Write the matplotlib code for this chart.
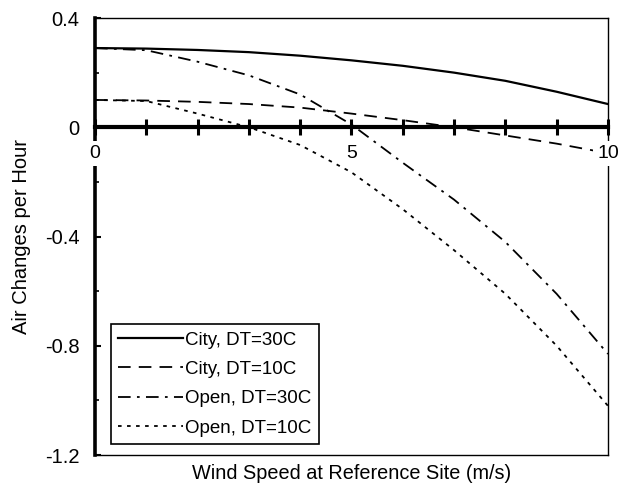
import matplotlib
matplotlib.use("Agg")
import matplotlib.pyplot as plt
import numpy as np
from matplotlib.ticker import FixedLocator, FixedFormatter

plt.rcParams['font.family'] = ['Liberation Sans', 'DejaVu Sans']
plt.rcParams['axes.unicode_minus'] = False

# wind speed (m/s)
wind = [0, 1, 2, 3, 4, 5, 6, 7, 8, 9, 10]

# air changes per hour
city_30 = [0.29, 0.288, 0.283, 0.275, 0.262, 0.245, 0.225, 0.20, 0.17, 0.13, 0.085]
city_10 = [0.10, 0.098, 0.093, 0.085, 0.072, 0.05, 0.026, 0.0, -0.03, -0.06, -0.095]
open_30 = [0.29, 0.282, 0.24, 0.19, 0.12, 0.01, -0.13, -0.265, -0.42, -0.61, -0.83]
open_10 = [0.10, 0.096, 0.05, 0.0, -0.065, -0.165, -0.30, -0.45, -0.61, -0.80, -1.02]

labels = ["City, DT=30C", "City, DT=10C", "Open, DT=30C", "Open, DT=10C"]

y_ticks = [0.4, 0, -0.4, -0.8, -1.2]
y_ticklabels = ["0.4", "0", "-0.4", "-0.8", "-1.2"]

fig = plt.figure(figsize=(6.3, 4.88), dpi=100)
ax = fig.add_axes([0.1508, 0.0676, 0.8142, 0.8955])

lw = 1.3
ax.plot(wind, city_30, color='k', lw=1.6, label=labels[0])
ax.plot(wind, city_10, color='k', lw=lw, dashes=(7, 4.5), label=labels[1])
ax.plot(wind, open_30, color='k', lw=lw, dashes=(7, 3.5, 1.5, 3.5), label=labels[2])
ax.plot(wind, open_10, color='k', lw=lw, dashes=(2, 3), label=labels[3])

ax.set_xlim(0, 10)
ax.set_ylim(-1.2, 0.4)

# x axis drawn through zero, ticks crossing it
ax.spines['bottom'].set_position(('data', 0))
ax.spines['bottom'].set_linewidth(3.0)
ax.spines['left'].set_linewidth(2.6)
ax.spines['top'].set_linewidth(1.0)
ax.spines['right'].set_linewidth(1.0)
# bottom frame line of the box
ax.plot([0, 1], [0, 0], transform=ax.transAxes, color='k', lw=1.0, clip_on=False)

ax.xaxis.set_major_locator(FixedLocator([0, 5, 10]))
ax.xaxis.set_minor_locator(FixedLocator([1, 2, 3, 4, 6, 7, 8, 9]))
ax.tick_params(axis='x', which='both', direction='inout', length=12, width=2.2,
               labelsize=14, pad=7)
ax.xaxis.set_zorder(3)
for t in ax.get_xticklabels():
    t.set_bbox(dict(facecolor='white', edgecolor='none', pad=3))

ax.yaxis.set_major_locator(FixedLocator(y_ticks))
ax.yaxis.set_major_formatter(FixedFormatter(y_ticklabels))
ax.yaxis.set_minor_locator(FixedLocator([0.2, -0.2, -0.6, -1.0]))
ax.tick_params(axis='y', which='major', direction='in', length=4, width=1.5,
               labelsize=14.5, pad=11)
ax.tick_params(axis='y', which='minor', direction='in', length=3, width=1.2)

ax.set_ylabel("Air Changes per Hour", fontsize=14.5)
ax.yaxis.set_label_coords(-0.125, 0.5)
ax.set_xlabel("Wind Speed at Reference Site (m/s)", fontsize=14.3)
ax.xaxis.set_label_coords(0.5, -0.02)

leg = ax.legend(loc='lower left', bbox_to_anchor=(0.031, 0.025), borderaxespad=0,
                fontsize=13.5, handlelength=3.45, handletextpad=0.1,
                labelspacing=0.65, fancybox=False, framealpha=1,
                edgecolor='k', borderpad=0.4)
leg.get_frame().set_linewidth(1.2)

fig.savefig("out.png", dpi=100)
